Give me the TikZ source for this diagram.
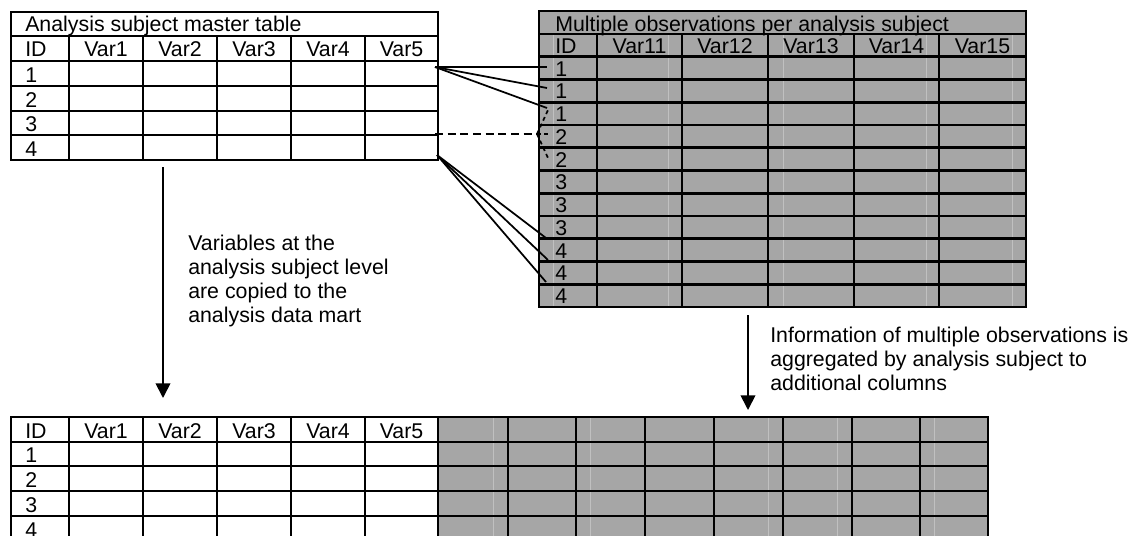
\documentclass[tikz,border=0pt]{standalone}
\usepackage{fontspec}
\setmainfont{Liberation Sans}
\usetikzlibrary{arrows.meta, positioning}
\definecolor{cellgray}{RGB}{166,166,166}
\definecolor{seamgray}{RGB}{192,192,192}
\newcommand{\tabfont}{\fontsize{16}{18}\selectfont}
\tikzset{
    rule/.style={line width=2pt, line cap=rect},
    seam/.style={line width=0.6pt, seamgray},
    txt/.style={anchor=base west, inner sep=0pt, font=\tabfont},
    colhead/.style={anchor=base, inner sep=0pt, font=\tabfont},
    link/.style={line width=1.3pt},
    flow/.style={-{Triangle[length=11pt, width=11pt]}, line width=1.3pt}
}

\begin{document}
\begin{tikzpicture}[x=0.75pt, y=-0.75pt]
    \clip (0,0) rectangle (1141,535);
    % master table
    \draw[rule] (11,12) rectangle (438,160);
    \foreach \y in {36,61,86,111,135} \draw[rule] (11,\y) -- (438,\y);
    \foreach \x in {69,143,217,291,365} \draw[rule] (\x,36) -- (\x,160);
    \node[txt] (mtitle) at (25,32) {Analysis subject master table};
    \node[txt] (mid) at (25,57) {ID};
    \foreach \x [count=\i] in {106,180,254,328,401.5}
        \node[colhead] (mvar\i) at (\x,57) {Var\i};
    \foreach \y [count=\i] in {82.5,107.5,131.5,156.5}
        \node[txt] (mrow\i) at (25,\y) {\i};

    % observation table
    \fill[cellgray] (539,11) rectangle (1026,307);
    \foreach \x in {553,668,783,926,1012} \draw[seam] (\x,34) -- (\x,307);
    \draw[rule] (539,11) rectangle (1026,307);
    \foreach \k in {0,...,11} \draw[rule] (539,{34+\k*22.75}) -- (1026,{34+\k*22.75});
    \foreach \x in {597,682,768,854,939} \draw[rule] (\x,34) -- (\x,307);
    \node[txt] (otitle) at (555,31.5) {Multiple observations per analysis subject};
    \node[txt] (oid) at (555,54) {ID};
    \foreach \x [count=\i] in {639.5,725,811,896.5,982.5}
        \node[colhead] (ovar\i) at (\x,54) {Var1\i};
    \foreach \v [count=\k] in {1,1,1,2,2,3,3,3,4,4,4}
        \node[txt] (orow\k) at (555,{34+(\k+1)*22.75-3.5}) {\v};

    % analysis data mart
    \fill[cellgray] (438,417) rectangle (988,560);
    \foreach \x in {493,590,768,837,934} \draw[seam] (\x,417) -- (\x,560);
    \foreach \y in {417,442,466,491,516,540} \draw[rule] (11,\y) -- (988,\y);
    \foreach \x in {11,69,143,217,291,365,438,508,576,645,714,783,852,920,988}
        \draw[rule] (\x,417) -- (\x,560);
    \node[txt] (did) at (25,438) {ID};
    \foreach \x [count=\i] in {106,180,254,328,401.5}
        \node[colhead] (dvar\i) at (\x,438) {Var\i};
    \foreach \y [count=\i] in {462.5,487.5,512.5,537}
        \node[txt] (drow\i) at (25,\y) {\i};

    % links between the two source tables
    \coordinate (src1) at (435,67);
    \coordinate (src2) at (435,134);
    \coordinate (src4) at (437,155);
    \coordinate (fork) at (537,134);
    \foreach \y [count=\i] in {67,88,108} {
        \coordinate (one\i) at (547,\y);
        \draw[link] (src1) -- (one\i);
    }
    \draw[link, dash pattern=on 6pt off 3.5pt] (src2) -- (fork);
    \foreach \y [count=\i] in {110,134,158} {
        \coordinate (two\i) at (548,\y);
        \draw[link, dash pattern=on 3pt off 2.5pt] (fork) -- (two\i);
    }
    \foreach \y/\x [count=\i] in {238/546,260/548,282/546} {
        \coordinate (four\i) at (\x,\y);
        \draw[link] (src4) -- (four\i);
    }

    % arrows down to the data mart
    \coordinate (copyfrom) at (163,167);
    \coordinate (copyto) at (163,398);
    \draw[flow] (copyfrom) -- (copyto);
    \coordinate (aggfrom) at (748,315);
    \coordinate (aggto) at (748,410);
    \draw[flow] (aggfrom) -- (aggto);
    \node[txt, align=left] (copynote) at (188,322)
        {Variables at the\\analysis subject level\\are copied to the\\analysis data mart};
    \node[txt, align=left] (aggnote) at (770,390)
        {Information of multiple observations is\\aggregated by analysis subject to\\additional columns};
\end{tikzpicture}
\end{document}
